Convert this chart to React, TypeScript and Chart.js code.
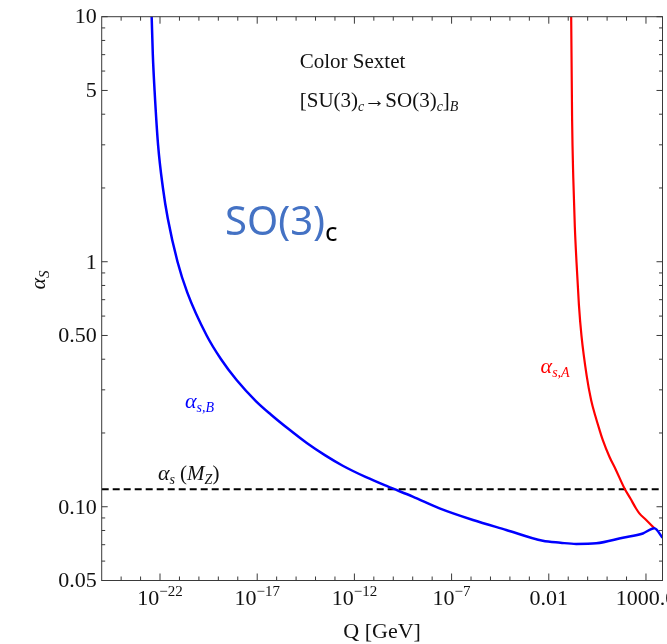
import React, { useEffect, useRef } from "react";
import { Chart, registerables } from "chart.js";

Chart.register(...registerables);

// ---- data (log10 of Q in GeV, and alpha_s) ----
const blueLogQ = [-22.47, -22.43, -22.37, -22.28, -22.1, -21.85, -21.6, -21.1, -20.6, -19.6, -18.86, -18.06, -17.07, -16.3, -15.4, -14.45, -13.5, -12.6, -11.4, -10.29, -9.0, -7.62, -5.9, -4.19, -2.31, -1.4, -0.59, 0.44, 1.81, 2.84, 3.43, 3.85];
const blueAlpha = [14, 10, 7, 5, 3, 2, 1.5, 1, 0.75, 0.5, 0.4, 0.329, 0.27, 0.238, 0.208, 0.182, 0.162, 0.147, 0.132, 0.121, 0.11, 0.0985, 0.0883, 0.0804, 0.0726, 0.0713, 0.0705, 0.0709, 0.0747, 0.0778, 0.0817, 0.0748];

const redLogQ = [-0.86, -0.848, -0.8, -0.74, -0.66, -0.575, -0.45, -0.32, -0.05, 0.18, 0.4, 0.61, 0.78, 1.12, 1.46, 1.89, 2.2, 2.49, 2.66, 3.01, 3.43];
const redAlpha = [14, 10, 3.8, 2.2, 1.39, 1.0, 0.667, 0.5, 0.342, 0.272, 0.234, 0.206, 0.187, 0.16, 0.141, 0.119, 0.108, 0.0984, 0.094, 0.0883, 0.0817];

const alphaMZ = 0.118;

const xMinExp = -25;
const xMaxExp = 3.85;
const yMin = 0.05;
const yMax = 10;

const xMinorExps = [-24, -23, -22, -21, -20, -19, -18, -17, -16, -15, -14, -13, -12, -11, -10, -9, -8, -7, -6, -5, -4, -3, -2, -1, 0, 1, 2, 3];
const xMajorExps = [-22, -17, -12, -7, -2, 3];
const xTickBase = ["10", "10", "10", "10", "0.01", "1000.0"];
const xTickSup = ["\u221222", "\u221217", "\u221212", "\u22127", "", ""];

const yMajorVals = [10, 5, 1, 0.5, 0.1, 0.05];
const yTickLabels = ["10", "5", "1", "0.50", "0.10", "0.05"];
const yMinorVals = [9, 8, 7, 6, 4, 3, 2, 0.9, 0.8, 0.7, 0.6, 0.4, 0.3, 0.2, 0.09, 0.08, 0.07, 0.06];

// annotation anchors in data coordinates (log10 Q, alpha)
const noteSextet = [-14.81, 6.18];
const noteBreaking = [-14.81, 4.28];
const noteSO3 = [-18.66, 1.28];
const noteBlue = [-20.72, 0.253];
const noteMZ = [-22.11, 0.1285];
const noteRed = [-2.42, 0.352];

const SERIF = '"Liberation Serif", "Times New Roman", serif';
const SANS = '"Noto Sans", "Liberation Sans", sans-serif';
const FRAME = "#3a3a3a";

type Run = { t: string; font: string; dy?: number; color?: string };

function drawRuns(ctx: CanvasRenderingContext2D, x: number, y: number, runs: Run[], align: "left" | "center", color: string) {
  let total = 0;
  const widths: number[] = [];
  for (const r of runs) {
    ctx.font = r.font;
    const w = ctx.measureText(r.t).width;
    widths.push(w);
    total += w;
  }
  let cx = align === "center" ? x - total / 2 : x;
  ctx.textAlign = "left";
  ctx.textBaseline = "alphabetic";
  runs.forEach((r, i) => {
    ctx.font = r.font;
    ctx.fillStyle = r.color || color;
    ctx.fillText(r.t, cx, y + (r.dy || 0));
    cx += widths[i];
  });
}

const framePlugin = {
  id: "framePlugin",
  afterDatasetsDraw(chart: any) {
    const { ctx, chartArea: a } = chart;
    const xs = chart.scales.x;
    const ys = chart.scales.y;
    ctx.save();
    ctx.strokeStyle = FRAME;
    ctx.lineWidth = 1;
    ctx.strokeRect(a.left, a.top, a.right - a.left, a.bottom - a.top);

    // x ticks (inward, bottom and top)
    ctx.beginPath();
    for (const e of xMinorExps) {
      const px = xs.getPixelForValue(Math.pow(10, e));
      const len = xMajorExps.includes(e) ? 7 : 4;
      ctx.moveTo(px, a.bottom);
      ctx.lineTo(px, a.bottom - len);
      ctx.moveTo(px, a.top);
      ctx.lineTo(px, a.top + len);
    }
    // y ticks (inward, left and right)
    for (const v of yMajorVals) {
      const py = ys.getPixelForValue(v);
      ctx.moveTo(a.left, py);
      ctx.lineTo(a.left + 6, py);
      ctx.moveTo(a.right, py);
      ctx.lineTo(a.right - 6, py);
    }
    for (const v of yMinorVals) {
      const py = ys.getPixelForValue(v);
      ctx.moveTo(a.left, py);
      ctx.lineTo(a.left + 3.5, py);
      ctx.moveTo(a.right, py);
      ctx.lineTo(a.right - 3.5, py);
    }
    ctx.stroke();

    // x tick labels
    const base = `22px ${SERIF}`;
    const sup = `15px ${SERIF}`;
    xMajorExps.forEach((e, i) => {
      const px = xs.getPixelForValue(Math.pow(10, e));
      const runs: Run[] = [{ t: xTickBase[i], font: base }];
      if (xTickSup[i]) runs.push({ t: xTickSup[i], font: sup, dy: -9 });
      drawRuns(ctx, px, a.bottom + 24, runs, "center", "#111");
    });

    // y tick labels
    ctx.font = base;
    ctx.fillStyle = "#111";
    ctx.textAlign = "right";
    ctx.textBaseline = "middle";
    yMajorVals.forEach((v, i) => {
      const py = ys.getPixelForValue(v);
      ctx.fillText(yTickLabels[i], a.left - 5, py + 1);
    });

    // axis titles
    drawRuns(ctx, (a.left + a.right) / 2, a.bottom + 57, [{ t: "Q [GeV]", font: `22px ${SERIF}` }], "center", "#111");
    ctx.save();
    ctx.translate(45, 280);
    ctx.rotate(-Math.PI / 2);
    drawRuns(ctx, 0, 0, [
      { t: "\u03b1", font: `italic 22px ${SERIF}` },
      { t: "S", font: `italic 15px ${SERIF}`, dy: 4 },
    ], "center", "#111");
    ctx.restore();

    const P = (p: number[]) => [xs.getPixelForValue(Math.pow(10, p[0])), ys.getPixelForValue(p[1])];

    // annotations
    let [tx, ty] = P(noteSextet);
    drawRuns(ctx, tx, ty, [{ t: "Color Sextet", font: `21px ${SERIF}` }], "left", "#111");
    [tx, ty] = P(noteBreaking);
    const r21 = `21px ${SERIF}`;
    const i14 = `italic 14px ${SERIF}`;
    drawRuns(ctx, tx, ty, [
      { t: "[SU(3)", font: r21 },
      { t: "c", font: i14, dy: 4 },
      { t: "\u2192SO(3)", font: r21 },
      { t: "c", font: i14, dy: 4 },
      { t: "]", font: r21 },
      { t: "B", font: i14, dy: 4 },
    ], "left", "#111");

    [tx, ty] = P(noteSO3);
    drawRuns(ctx, tx, ty, [
      { t: "SO(3)", font: `40px ${SANS}`, color: "#4472C4" },
      { t: "c", font: `26px ${SANS}`, dy: 6, color: "#000" },
    ], "left", "#000");

    [tx, ty] = P(noteBlue);
    drawRuns(ctx, tx, ty, [
      { t: "\u03b1", font: `italic 22px ${SERIF}` },
      { t: "s,B", font: `italic 14px ${SERIF}`, dy: 4 },
    ], "left", "#0000ff");

    [tx, ty] = P(noteMZ);
    drawRuns(ctx, tx, ty, [
      { t: "\u03b1", font: `italic 22px ${SERIF}` },
      { t: "s", font: `italic 14px ${SERIF}`, dy: 4 },
      { t: " (", font: `21px ${SERIF}` },
      { t: "M", font: `italic 21px ${SERIF}` },
      { t: "Z", font: `italic 14px ${SERIF}`, dy: 4 },
      { t: ")", font: `21px ${SERIF}` },
    ], "left", "#111");

    [tx, ty] = P(noteRed);
    drawRuns(ctx, tx, ty, [
      { t: "\u03b1", font: `italic 22px ${SERIF}` },
      { t: "s,A", font: `italic 14px ${SERIF}`, dy: 4 },
    ], "left", "#ff0000");

    ctx.restore();
  },
};

export default function App() {
  const canvasRef = useRef<HTMLCanvasElement | null>(null);

  useEffect(() => {
    document.body.style.margin = "0";
    const canvas = canvasRef.current;
    if (!canvas) return;

    const blue = blueLogQ.map((q, i) => ({ x: Math.pow(10, q), y: blueAlpha[i] }));
    const red = redLogQ.map((q, i) => ({ x: Math.pow(10, q), y: redAlpha[i] }));
    const dashed = [
      { x: Math.pow(10, xMinExp), y: alphaMZ },
      { x: Math.pow(10, xMaxExp), y: alphaMZ },
    ];

    const chart = new Chart(canvas, {
      type: "line",
      data: {
        datasets: [
          {
            label: "\u03b1s,B",
            data: blue,
            borderColor: "#0000ff",
            borderWidth: 2.5,
            pointRadius: 0,
            fill: false,
            cubicInterpolationMode: "monotone",
          },
          {
            label: "\u03b1s,A",
            data: red,
            borderColor: "#ff0000",
            borderWidth: 2.2,
            pointRadius: 0,
            fill: false,
            cubicInterpolationMode: "monotone",
          },
          {
            label: "\u03b1s(MZ)",
            data: dashed,
            borderColor: "#000000",
            borderWidth: 2,
            borderDash: [7, 4],
            pointRadius: 0,
            fill: false,
          },
        ],
      } as any,
      options: {
        responsive: false,
        animation: false,
        devicePixelRatio: 1,
        parsing: false as any,
        layout: { padding: { left: 0, right: 4.5, top: 16.7, bottom: 0 } },
        plugins: { legend: { display: false }, tooltip: { enabled: false } },
        scales: {
          x: {
            type: "logarithmic",
            min: Math.pow(10, xMinExp),
            max: Math.pow(10, xMaxExp),
            ticks: { display: false },
            grid: { display: false },
            border: { display: false },
            afterFit: (s: any) => {
              s.height = 63.5;
            },
          },
          y: {
            type: "logarithmic",
            min: yMin,
            max: yMax,
            ticks: { display: false },
            grid: { display: false },
            border: { display: false },
            afterFit: (s: any) => {
              s.width = 101.7;
            },
          },
        },
      } as any,
      plugins: [framePlugin],
    });

    return () => chart.destroy();
  }, []);

  return (
    <div style={{ width: 667, height: 644, background: "#fff" }}>
      <canvas ref={canvasRef} width={667} height={644} style={{ display: "block", width: 667, height: 644 }} />
    </div>
  );
}
